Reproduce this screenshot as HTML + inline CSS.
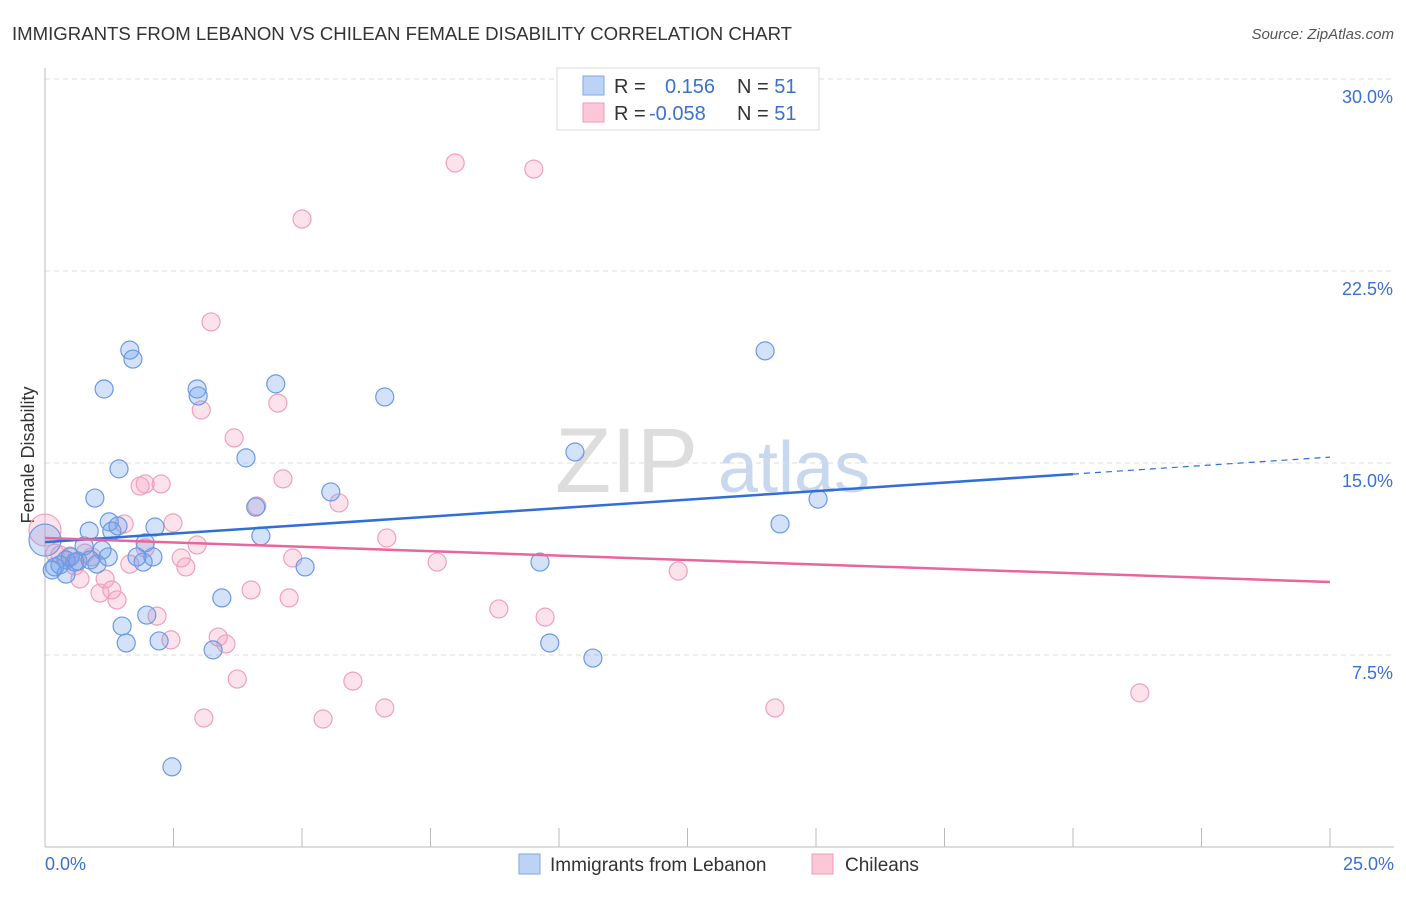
<!DOCTYPE html>
<html><head><meta charset="utf-8"><style>
body{margin:0;background:#fff;font-family:"Liberation Sans",sans-serif}
svg text{font-family:"Liberation Sans",sans-serif}
</style></head><body>
<svg id="c" width="1406" height="892">
<text x="12" y="40" font-size="18.6" fill="#333">IMMIGRANTS FROM LEBANON VS CHILEAN FEMALE DISABILITY CORRELATION CHART</text>
<text x="1394" y="39" font-size="15" fill="#555" font-style="italic" text-anchor="end">Source: ZipAtlas.com</text>
<text x="34" y="455" font-size="18" fill="#333" text-anchor="middle" transform="rotate(-90 34 455)">Female Disability</text>
<g><text x="555" y="492" font-size="92" fill="#ddd" font-family="Liberation Serif">ZIP</text><text x="718" y="492" font-size="72" fill="#c8d8ee">atlas</text></g>
<g id="grid"></g><g id="axes"></g><g id="pts"></g><g id="lines"></g>
<g>
<rect x="557" y="68" width="262" height="62" fill="#fff" stroke="#ddd"/>
<rect x="583" y="76" width="21" height="19" fill="#bcd3f5" stroke="#7fa8e8"/>
<rect x="583" y="103" width="21" height="19" fill="#fcc8d8" stroke="#f09ab5"/>
<text x="614" y="93" font-size="20" fill="#333">R = <tspan fill="#3b6fd0" x="665">0.156</tspan><tspan x="737" fill="#333">N = </tspan><tspan fill="#3b6fd0">51</tspan></text>
<text x="614" y="120" font-size="20" fill="#333">R = <tspan fill="#3b6fd0" x="649">-0.058</tspan><tspan x="737" fill="#333">N = </tspan><tspan fill="#3b6fd0">51</tspan></text>
</g>
<g>
<rect x="519" y="854" width="21" height="20" fill="#bcd3f5" stroke="#7fa8e8"/>
<text x="550" y="871" font-size="19" fill="#333">Immigrants from Lebanon</text>
<rect x="812" y="854" width="21" height="20" fill="#fcc8d8" stroke="#f09ab5"/>
<text x="845" y="871" font-size="19" fill="#333">Chileans</text>
</g>
</svg>
<script>
const yTicks=[7.5,15,22.5,30];
const yTickLabels=["7.5%","15.0%","22.5%","30.0%"];
const xTickLabels=["0.0%","25.0%"];
const blueX=[1.65,1.71,1.15,2.96,2.98,4.49,6.61,14.01,1.44,3.91,10.31,0.97,5.56,15.04,4.10,1.25,1.42,2.14,0.86,1.30,14.30,4.20,1.95,0.76,1.11,0.49,1.79,2.10,0.41,0.64,1.01,1.91,0.19,0.14,0.41,5.06,9.63,1.98,1.50,3.44,1.58,2.22,3.27,9.82,10.66,2.47,0.58,0,0.29,0.88,1.23];
const blueY=[19.41,19.06,17.89,17.89,17.62,18.09,17.58,19.38,14.77,15.20,15.43,13.63,13.87,13.59,13.28,12.70,12.54,12.50,12.34,12.34,12.62,12.15,11.88,11.76,11.60,11.33,11.33,11.33,11.21,11.17,11.05,11.13,10.94,10.82,10.66,10.94,11.13,9.06,8.63,9.73,7.97,8.05,7.70,7.97,7.38,3.13,11.13,11.99,11.02,11.21,11.33];
const pinkX=[7.98,9.51,5.00,3.23,4.53,3.04,3.68,4.63,1.85,1.95,2.26,4.12,5.72,2.49,1.54,6.65,2.96,1.95,0.19,0,0.49,0.91,2.65,4.82,7.63,12.32,2.74,1.65,0.68,1.17,1.30,1.07,1.40,4.01,4.75,8.83,9.73,2.18,3.37,3.52,2.45,3.74,5.99,6.61,14.20,21.30,3.09,5.41,0.29,0.58,0.78];
const pinkY=[26.72,26.48,24.53,20.51,17.34,17.07,15.98,14.38,14.10,14.18,14.18,13.32,13.44,12.66,12.62,12.07,11.80,11.68,11.48,12.38,11.37,11.33,11.29,11.29,11.13,10.78,10.94,11.05,10.47,10.47,10.04,9.92,9.65,10.04,9.73,9.30,8.98,9.02,8.20,7.93,8.09,6.56,6.48,5.43,5.43,6.02,5.04,5.00,11.41,10.98,11.48];
const blueTrend=[11.91,15.23];
const pinkTrend=[12.07,10.35];
const NS="http://www.w3.org/2000/svg";
const X0=45,X1=1330,Y0=847,YPER=192/7.5;
const sx=v=>X0+v/25*(X1-X0), sy=v=>Y0-v*YPER;
function mk(t,a,p){const e=document.createElementNS(NS,t);for(const k in a)e.setAttribute(k,a[k]);p.appendChild(e);return e;}
const grid=document.getElementById('grid'),axes=document.getElementById('axes'),pts=document.getElementById('pts'),lines=document.getElementById('lines');
yTicks.forEach((t,i)=>{
 const l=mk('line',{x1:X0,x2:1394,y1:sy(t),y2:sy(t),stroke:'#ddd','stroke-dasharray':'5,4'},grid);
 
 
 const tx=mk('text',{x:1393,y:sy(t)+24,'font-size':18,fill:'#3b6fd0','text-anchor':'end'},axes);
 tx.textContent=yTickLabels[i];
 
 
});
const ax=mk('line',{x1:X0,x2:1394,y1:Y0,y2:Y0,stroke:'#bbb'},axes);


const ay=mk('line',{x1:X0,x2:X0,y1:68,y2:Y0,stroke:'#bbb'},axes);


for(let i=0;i<=10;i++){
 const tk=mk('line',{x1:sx(i*2.5),x2:sx(i*2.5),y1:828,y2:Y0,stroke:'#bbb'},axes);
 
 
}
[[0,'start',45],[25,'end',1394]].forEach((d,i)=>{
 const tx=mk('text',{x:d[2],y:870,'font-size':18,fill:'#3b6fd0','text-anchor':d[1]},axes);
 tx.textContent=xTickLabels[i];
 
 
});
function drawPts(xs,ys,fill,stroke,name){
 xs.forEach((x,i)=>{
  const big=(x===0);
  const c=mk('circle',{cx:sx(x),cy:sy(ys[i]),r:big?16:9,fill:fill,stroke:stroke,'stroke-width':1.2},pts);
  
  
 });
}
drawPts(pinkX,pinkY,'rgba(245,160,190,0.3)','#f0a0bc','chileans-point');
drawPts(blueX,blueY,'rgba(110,160,235,0.3)','#6a9ae5','lebanon-point');
const bx=20;
const bMid=blueTrend[0]+(blueTrend[1]-blueTrend[0])*bx/25;
const b1=mk('line',{x1:sx(0),y1:sy(blueTrend[0]),x2:sx(bx),y2:sy(bMid),stroke:'#2f6fd6','stroke-width':2.5},lines);


const b2=mk('line',{x1:sx(bx),y1:sy(bMid),x2:sx(25),y2:sy(blueTrend[1]),stroke:'#2f6fd6','stroke-width':1.2,'stroke-dasharray':'6,5'},lines);


const p1=mk('line',{x1:sx(0),y1:sy(pinkTrend[0]),x2:sx(25),y2:sy(pinkTrend[1]),stroke:'#e8669a','stroke-width':2.5},lines);


</script>
</body></html>
